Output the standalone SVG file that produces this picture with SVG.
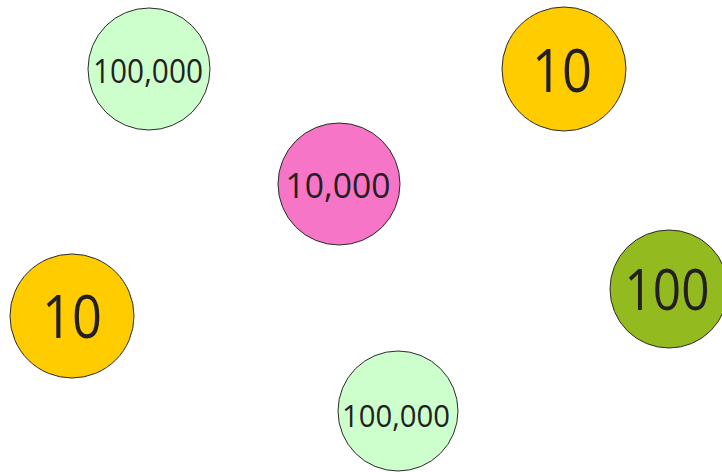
<svg xmlns="http://www.w3.org/2000/svg" width="722" height="472" viewBox="0 0 722 472">
<style>
.c{stroke:#2b2b2b;stroke-width:1}
.t{font-family:"Open Sans","Noto Sans",sans-serif;fill:#231f20;text-anchor:middle}
</style>
<rect width="722" height="472" fill="#fff"/>
<g id="n1"><circle class="c" cx="149" cy="69" r="61" fill="#ccffcc"/><text class="t" x="148" y="83" font-size="32" textLength="110" lengthAdjust="spacingAndGlyphs">100,000</text></g>
<g id="n2"><circle class="c" cx="564" cy="69" r="62" fill="#ffcc00"/><text class="t" x="562" y="92" font-size="61" textLength="60" lengthAdjust="spacingAndGlyphs">10</text></g>
<g id="n3"><circle class="c" cx="339" cy="184" r="61" fill="#f675c7"/><text class="t" x="338" y="198" font-size="35" textLength="105" lengthAdjust="spacingAndGlyphs">10,000</text></g>
<g id="n4"><circle class="c" cx="72" cy="316" r="62" fill="#ffcc00"/><text class="t" x="72" y="338" font-size="60" textLength="60" lengthAdjust="spacingAndGlyphs">10</text></g>
<g id="n5"><circle class="c" cx="669" cy="289" r="59" fill="#93bb1f"/><text class="t" x="667" y="310" font-size="56" textLength="85" lengthAdjust="spacingAndGlyphs">100</text></g>
<g id="n6"><circle class="c" cx="398" cy="411" r="60" fill="#ccffcc"/><text class="t" x="396" y="427" font-size="31" textLength="108" lengthAdjust="spacingAndGlyphs">100,000</text></g>
<g id="connectors"></g>
</svg>
